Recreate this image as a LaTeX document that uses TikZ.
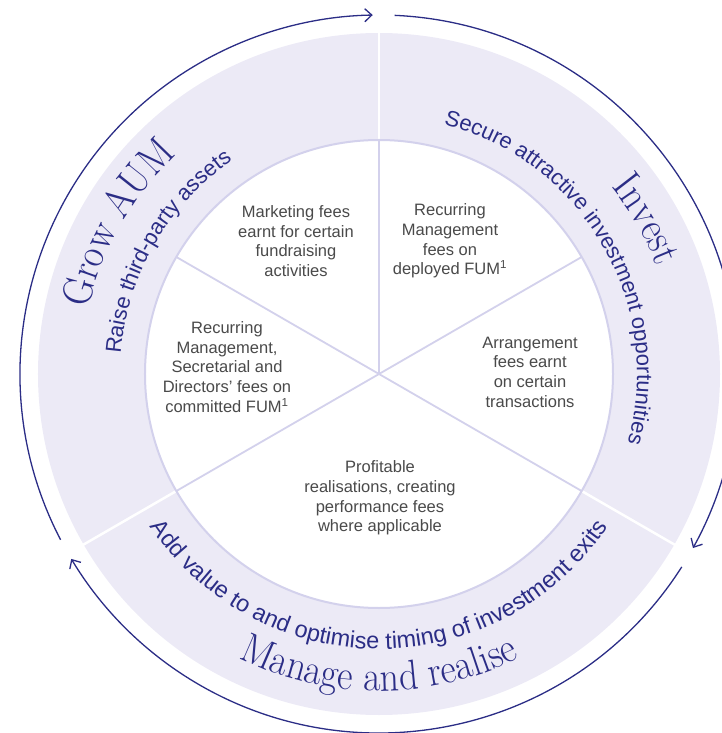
\documentclass[tikz,border=0pt]{standalone}
\usepackage{fontspec}
\setsansfont{Liberation Sans}
\newfontfamily\titlerm[FakeStretch=0.9]{Latin Modern Roman}
\usetikzlibrary{arrows.meta,decorations.text}

\definecolor{ringfill}{HTML}{ECEAF6}
\definecolor{ringline}{HTML}{D3D1EC}
\definecolor{navy}{HTML}{2B2D86}
\definecolor{bodygray}{HTML}{4A4A4A}

\newcommand{\titlefont}{\titlerm\fontsize{42}{46}\selectfont}
\newcommand{\subfont}{\sffamily\fontsize{22}{24}\selectfont}
\newcommand{\lowsubfont}{\sffamily\fontsize{23.5}{26}\selectfont}

\begin{document}
\begin{tikzpicture}[x=1pt,y=1pt,
        inner/.style={font=\sffamily\fontsize{16.5}{19.7}\selectfont,text=bodygray,align=center},
        cycle/.style={draw=navy,line width=1.3pt,-{Straight Barb[length=7pt,width=13pt]}},
        curved/.style={decorate,decoration={text along path,text align=center,text color=navy,text={#1}}}]
        \useasboundingbox (-379,-359) rectangle (343,374);
        \coordinate (hub) at (0,0);

        %RING
        \fill[ringfill] (hub) circle[radius=341pt];
        \foreach \a in {90,210,330}
            \draw[white,line width=2.5pt] (\a:230pt) -- (\a:345pt);

        %INNER CIRCLE
        \draw[ringline,fill=white,line width=2pt] (hub) circle[radius=234pt];
        \foreach \a in {30,90,150,210,330}
            \draw[ringline,line width=1.8pt] (hub) -- (\a:234pt);

        %CYCLE ARROWS
        \foreach \s/\e in {87.5/-29,-32.5/-149,207.5/91}
            \draw[cycle] (\s:359pt) arc[start angle=\s,end angle=\e,radius=359pt];

        %GROW AUM
        \path[curved={|\titlefont|Grow AUM}] (185:298pt) arc[start angle=185,end angle=115,radius=298pt];
        \path[curved={|\subfont|Raise third-party assets}] (195:259pt) arc[start angle=195,end angle=105,radius=259pt];

        %INVEST
        \path[curved={|\titlefont|Invest}] (65:298pt) arc[start angle=65,end angle=-5,radius=298pt];
        \path[curved={|\subfont|Secure attractive investment opportunities}] (88:258pt) arc[start angle=88,end angle=-28,radius=258pt];

        %MANAGE AND REALISE
        \path[curved={|\lowsubfont|Add value to and optimise timing of investment exits}] (200:275pt) arc[start angle=200,end angle=340,radius=275pt];
        \path[curved={|\titlefont|Manage and realise}] (220:317pt) arc[start angle=220,end angle=320,radius=317pt];

        %FEES
        \node[inner] (marketing) at (-83,133) {Marketing fees\\earnt for certain\\fundraising\\activities};
        \node[inner] (deployed) at (71,133) {Recurring\\Management\\fees on\\deployed FUM\textsuperscript{1}};
        \node[inner] (arrangement) at (151,2) {Arrangement\\fees earnt\\on certain\\transactions};
        \node[inner] (committed) at (-152,7) {Recurring\\Management,\\Secretarial and\\Directors’ fees on\\committed FUM\textsuperscript{1}};
        \node[inner] (performance) at (1,-124) {Profitable\\realisations, creating\\performance fees\\where applicable};
\end{tikzpicture}
\end{document}
